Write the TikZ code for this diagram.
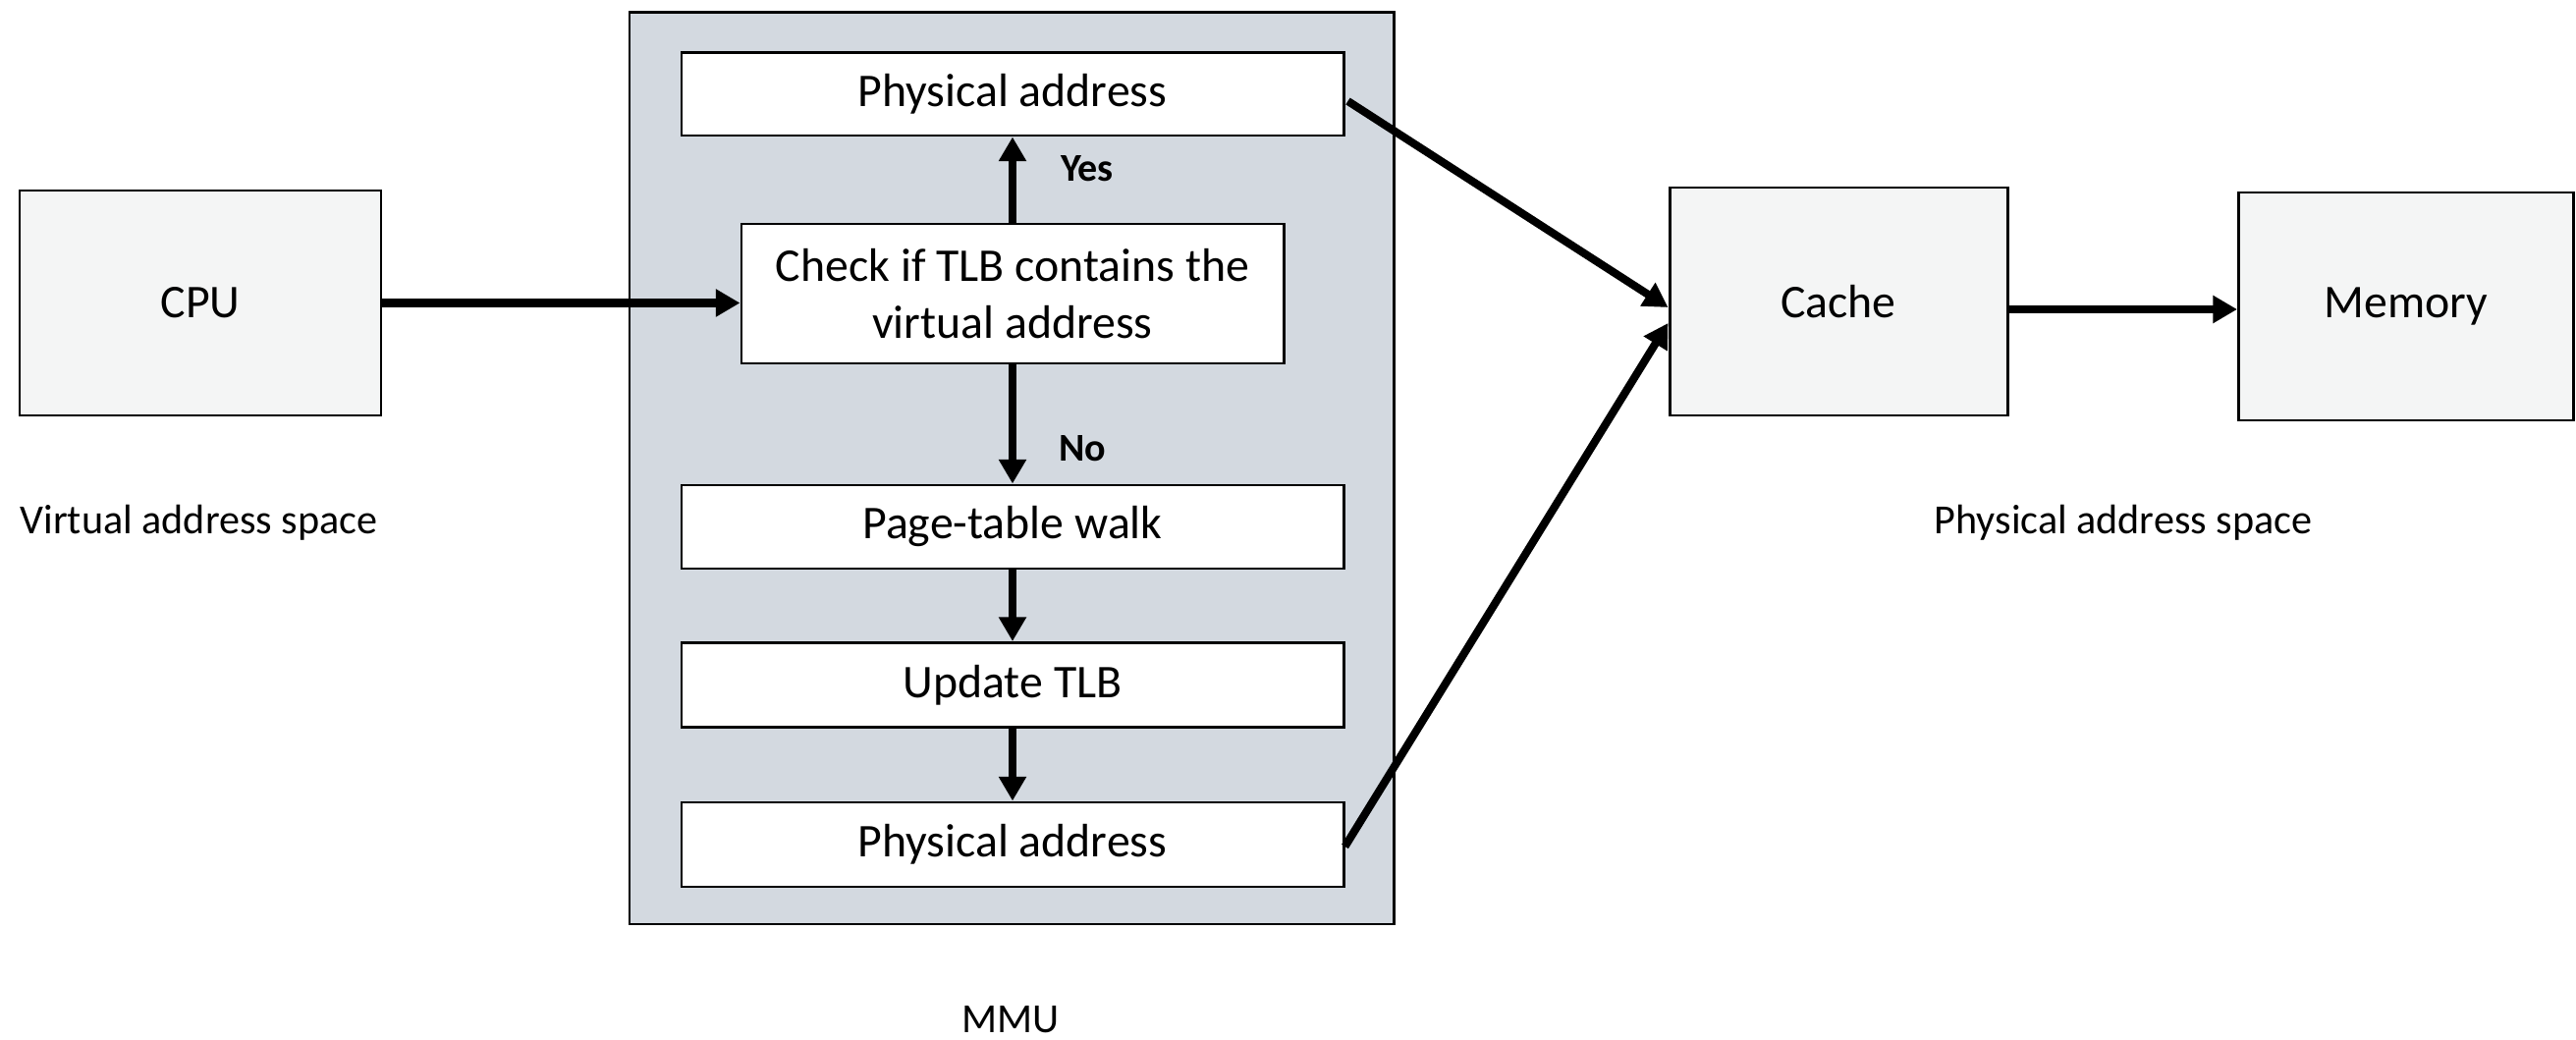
\documentclass[tikz,border=0pt]{standalone}
\usepackage{fontspec}
\setmainfont{Carlito}
\usetikzlibrary{arrows.meta,calc}
\definecolor{boxfill}{RGB}{244,245,245}
\definecolor{mmufill}{RGB}{211,217,224}
\tikzset{
  outerbox/.style={draw=black, line width=0.85pt, fill=boxfill, inner sep=0pt,
    font=\fontsize{13.6}{16.6}\selectfont},
  innerbox/.style={draw=black, line width=0.85pt, fill=white, inner sep=0pt,
    align=center, font=\fontsize{13.6}{16.6}\selectfont},
  flow/.style={line width=2.3pt, -{Triangle[width=7.6pt,length=7pt]}},
  plain/.style={inner sep=0pt, font=\fontsize{12}{14.4}\selectfont},
  decision/.style={inner sep=0pt, font=\fontsize{11.4}{13.6}\selectfont\bfseries}
}
\begin{document}
\begin{tikzpicture}[x=0.1mm, y=-0.1mm]
\useasboundingbox (0,0) rectangle (2623,1059);
\fill[white] (0,0) rectangle (2623,1059);

% MMU container
\node[draw=black, line width=0.85pt, fill=mmufill, minimum width=778*0.1mm, minimum height=928*0.1mm, inner sep=0pt] (mmu) at (1030,477) {};

% Outer boxes
\node[outerbox, minimum width=368*0.1mm, minimum height=229*0.1mm] (cpu) at (204,308.5) {CPU};
\node[outerbox, minimum width=344*0.1mm, minimum height=232*0.1mm] (cache) at (1872,307) {Cache};
\node[outerbox, minimum width=341*0.1mm, minimum height=232*0.1mm] (mem) at (2450,312) {Memory};

% Inner MMU boxes
\node[innerbox, minimum width=674*0.1mm, minimum height=84*0.1mm] (pa1) at (1031,96) {Physical address};
\node[innerbox, minimum width=552*0.1mm, minimum height=142*0.1mm] (chk) at (1031,299) {Check if TLB contains the\\virtual address};
\node[innerbox, minimum width=674*0.1mm, minimum height=85*0.1mm] (ptw) at (1031,536.5) {Page-table walk};
\node[innerbox, minimum width=674*0.1mm, minimum height=86*0.1mm] (upd) at (1031,697.5) {Update TLB};
\node[innerbox, minimum width=674*0.1mm, minimum height=86*0.1mm] (pa2) at (1031,860) {Physical address};

% Labels
\node[decision] (yes) at (1107,172) {Yes};
\node[decision] (no) at (1102,457) {No};
\node[plain, anchor=west] (vas) at (20,532) {Virtual address space};
\node[plain] (pas) at (2162,532) {Physical address space};
\node[plain] (mmulabel) at (1029,1038) {MMU};

% Connectors
\draw[flow] (cpu.east) -- (cpu.east -| chk.west);
\draw[flow] (chk.north) -- (pa1.south);
\draw[flow] (chk.south) -- (ptw.north);
\draw[flow] (ptw.south) -- (upd.north);
\draw[flow] (upd.south) -- (pa2.north);
\draw[flow] ($(pa1.east)+(3,7)$) -- ($(cache.west)+(0,6)$);
\draw[flow] ($(pa2.east)+(0,2)$) -- ($(cache.west)+(0,22)$);
\draw[flow] ($(cache.east)+(0,8)$) -- ($(cache.east -| mem.west)+(0,8)$);
\end{tikzpicture}
\end{document}
